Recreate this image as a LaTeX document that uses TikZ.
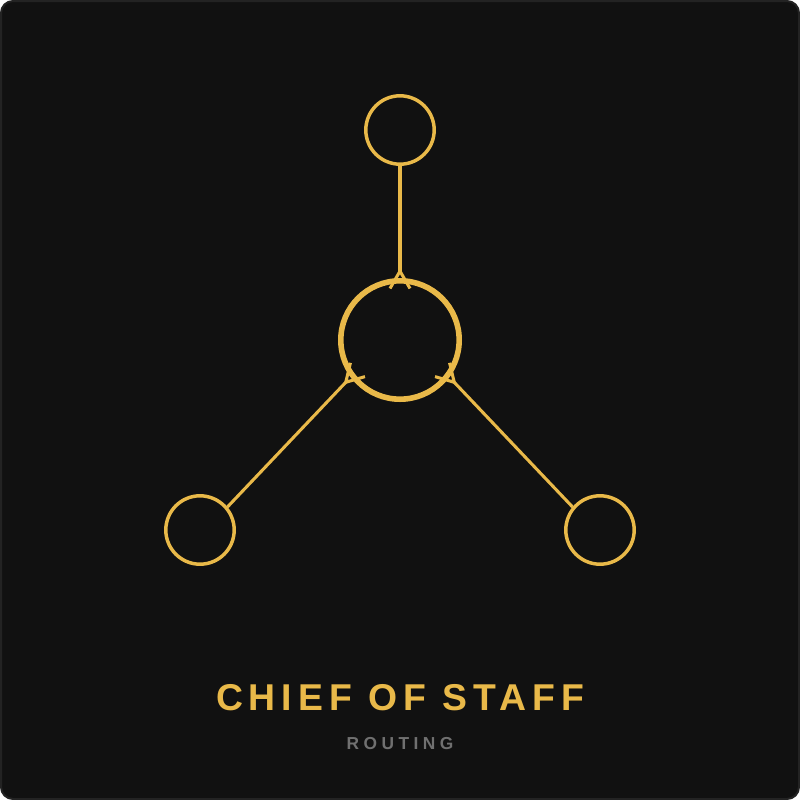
\documentclass[tikz,border=0pt]{standalone}
\usepackage{fontspec}
\setmainfont{Liberation Sans}
\newfontfamily\titlefont[LetterSpace=16]{Liberation Sans Bold}
\newfontfamily\subfont[LetterSpace=26]{Liberation Sans Bold}
\usetikzlibrary{arrows.meta}
\definecolor{gold}{HTML}{E9B949}
\definecolor{panel}{HTML}{111111}
\definecolor{rim}{HTML}{232323}
\definecolor{muted}{HTML}{707070}
\begin{document}
\begin{tikzpicture}[x=0.75pt,y=-0.75pt,
  >={Straight Barb[length=13pt,width=15pt,reversed]},
  leaf/.style={circle,draw=gold,line width=2.6pt,minimum size=51.3pt,inner sep=0pt},
  hub/.style={circle,draw=gold,line width=4.2pt,minimum size=88.8pt,inner sep=0pt},
  link/.style={draw=gold,line width=2.3pt,->,shorten >=-9pt}]
  \useasboundingbox (0,0) rectangle (800,800);
  \draw[fill=panel,draw=rim,line width=1.5pt,rounded corners=9pt] (1,1) rectangle (799,799);
  \node[hub] (chief) at (400,340) {};
  \node[leaf] (up) at (400,130) {};
  \node[leaf] (west) at (200,530) {};
  \node[leaf] (east) at (600,530) {};
  \draw[link] (up.south) -- (chief.north);
  \draw[link] (west.40) -- (chief.217);
  \draw[link] (east.140) -- (chief.323);
  \node[text=gold,font=\titlefont\fontsize{28pt}{30pt}\selectfont] (title) at (400,698) {CHIEF OF STAFF};
  \node[text=muted,font=\subfont\fontsize{13pt}{15pt}\selectfont] (sub) at (400,744) {ROUTING};
\end{tikzpicture}
\end{document}
